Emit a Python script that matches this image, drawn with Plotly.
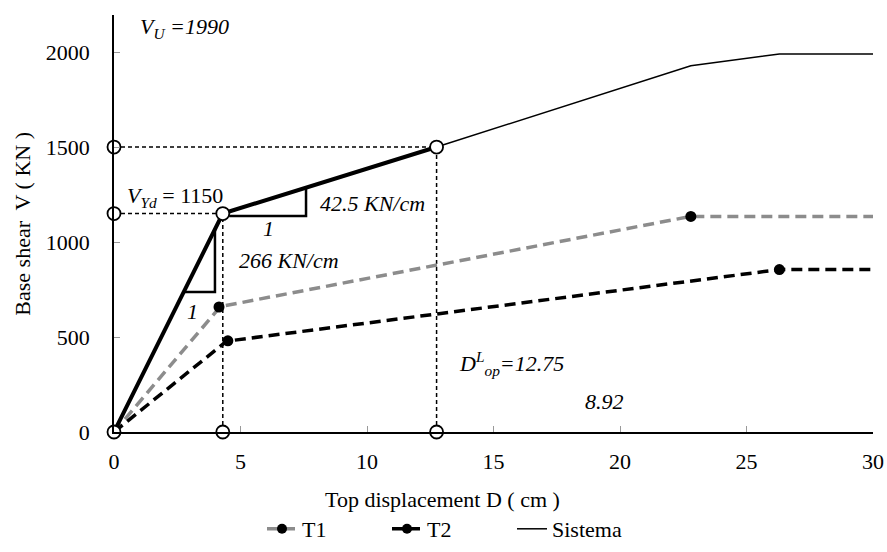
import plotly.graph_objects as go

# ---- data ----
sis_x = [0, 4.3, 12.75, 22.8, 26.3, 30]
sis_y = [0, 1150, 1500, 1928, 1990, 1990]
bil_x = [0, 4.3, 12.75]
bil_y = [0, 1150, 1500]
t1_x = [0, 4.2, 22.8, 30]
t1_y = [0, 660, 1135, 1135]
t1_pts_x = [4.15, 22.8]
t1_pts_y = [658, 1135]
t2_x = [0, 4.45, 26.3, 30]
t2_y = [0, 478, 855, 855]
t2_pts_x = [4.5, 26.3]
t2_pts_y = [480, 855]
ref_pts_x = [0, 0, 0, 4.3, 12.75, 4.3, 12.75]
ref_pts_y = [0, 1150, 1500, 0, 0, 1150, 1500]
# dashed guide lines (x pairs, y pairs)
guide_x = [[0, 12.75], [12.75, 12.75], [0, 4.3], [4.3, 4.3]]
guide_y = [[1500, 1500], [0, 1500], [1150, 1150], [0, 1150]]
# slope triangles
tri1_x = [2.76, 3.99, 3.99]
tri1_y = [737, 737, 1067]
tri2_x = [4.55, 7.59, 7.59]
tri2_y = [1137, 1137, 1286]
x_ticks = [0, 5, 10, 15, 20, 25, 30]
y_ticks = [0, 500, 1000, 1500, 2000]

FONT = "Times New Roman, Liberation Serif, Tinos, serif"
FS = 22
GRAY = "#8c8c8c"
DASH = "11px,6px"

fig = go.Figure()

for gx, gy in zip(guide_x, guide_y):
    fig.add_trace(go.Scatter(x=gx, y=gy, mode="lines", showlegend=False,
                             line=dict(color="black", width=1.5, dash="4px,3px"),
                             hoverinfo="skip"))

fig.add_trace(go.Scatter(x=tri1_x, y=tri1_y, mode="lines", showlegend=False,
                         line=dict(color="black", width=2.5)))
fig.add_trace(go.Scatter(x=tri2_x, y=tri2_y, mode="lines", showlegend=False,
                         line=dict(color="black", width=2.5)))

# T1
fig.add_trace(go.Scatter(x=t1_x, y=t1_y, mode="lines", showlegend=False,
                         line=dict(color=GRAY, width=3.5, dash=DASH)))
fig.add_trace(go.Scatter(x=t1_pts_x, y=t1_pts_y, mode="markers", showlegend=False,
                         marker=dict(color="#000000", size=11, opacity=1)))
fig.add_trace(go.Scatter(x=[None], y=[None], mode="lines+markers", name="T1",
                         line=dict(color=GRAY, width=3.5, dash=DASH),
                         marker=dict(color="#000000", size=10, opacity=1)))
# T2
fig.add_trace(go.Scatter(x=t2_x, y=t2_y, mode="lines", showlegend=False,
                         line=dict(color="black", width=3.5, dash=DASH)))
fig.add_trace(go.Scatter(x=t2_pts_x, y=t2_pts_y, mode="markers", showlegend=False,
                         marker=dict(color="#000000", size=11, opacity=1)))
fig.add_trace(go.Scatter(x=[None], y=[None], mode="lines+markers", name="T2",
                         line=dict(color="black", width=3.5, dash=DASH),
                         marker=dict(color="#000000", size=10, opacity=1)))
# Sistema
fig.add_trace(go.Scatter(x=sis_x, y=sis_y, mode="lines", name="Sistema",
                         line=dict(color="black", width=1.5)))
fig.add_trace(go.Scatter(x=bil_x, y=bil_y, mode="lines", showlegend=False,
                         line=dict(color="black", width=4)))
fig.add_trace(go.Scatter(x=ref_pts_x, y=ref_pts_y, mode="markers", showlegend=False,
                         cliponaxis=False,
                         marker=dict(color="white", size=13,
                                     line=dict(color="black", width=1.8))))

def ann(x, y, text):
    fig.add_annotation(x=x, y=y, text=text, showarrow=False,
                       font=dict(family=FONT, size=FS, color="black"))

ann(2.8, 2126, "<i>V<sub>U</sub> =1990</i>")
ann(2.4, 1237, "<i>V<sub>Yd</sub></i> = 1150")
ann(10.2, 1205, "<i>42.5 KN/cm</i>")
ann(6.1, 1073, "<i>1</i>")
ann(6.9, 905, "<i>266 KN/cm</i>")
ann(3.1, 632, "<i>1</i>")
ann(15.7, 363, "<i>D<sup>L</sup><sub>op</sub>=12.75</i>")
ann(19.4, 158, "<i>8.92</i>")

fig.add_annotation(xref="paper", yref="paper", x=0.433, y=-0.163, yanchor="middle",
                   text="Top displacement D ( cm )", showarrow=False,
                   font=dict(family=FONT, size=FS, color="black"))
fig.add_annotation(xref="paper", yref="paper", x=-0.121, y=0.5, xanchor="center",
                   yanchor="middle", textangle=-90,
                   text="Base shear  V ( KN )", showarrow=False,
                   font=dict(family=FONT, size=FS, color="black"))

fig.update_xaxes(range=[0, 30], tickvals=x_ticks, showgrid=False, zeroline=False,
                 showline=True, linecolor="black", linewidth=1.5,
                 ticks="inside", ticklen=6, tickcolor="#999999",
                 ticklabelstandoff=9, automargin=False,
                 tickfont=dict(family=FONT, size=FS, color="black"))
fig.update_yaxes(range=[0, 2195], tickvals=y_ticks, showgrid=False, zeroline=False,
                 showline=True, linecolor="black", linewidth=1.5,
                 ticks="inside", ticklen=6, tickcolor="#999999",
                 ticklabelstandoff=18, automargin=False,
                 tickfont=dict(family=FONT, size=FS, color="black"))

fig.update_layout(
    width=887, height=552,
    margin=dict(l=114, r=14, t=15, b=120, autoexpand=False),
    plot_bgcolor="white", paper_bgcolor="white",
    font=dict(family=FONT, size=FS, color="black"),
    legend=dict(orientation="h", xref="container", yref="container",
                x=262 / 887, xanchor="left", y=1 - 529 / 552, yanchor="middle",
                font=dict(family=FONT, size=FS),
                entrywidth=80, bgcolor="rgba(0,0,0,0)"),
)

fig.write_html("out.html")
